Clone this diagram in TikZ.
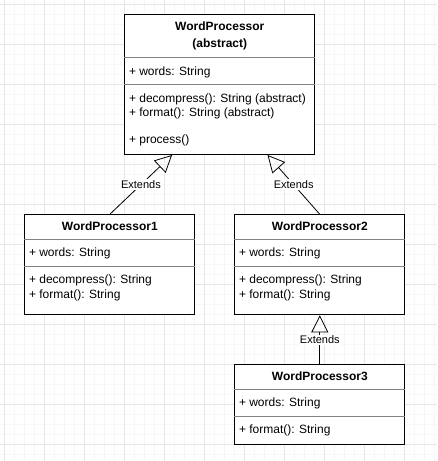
\documentclass[tikz,border=0pt]{standalone}
\usepackage{fontspec}
\setmainfont{Liberation Sans}
\usetikzlibrary{arrows.meta,calc}

\definecolor{gridmajor}{RGB}{230,230,230}
\definecolor{gridminor}{RGB}{247,247,247}
\definecolor{sepgray}{RGB}{130,130,130}

\tikzset{
  classbox/.style={draw, line width=1pt, fill=white, inner sep=0pt, anchor=north west},
  classname/.style={anchor=base, inner sep=0pt, font=\fontsize{12}{14}\selectfont\bfseries},
  member/.style={anchor=base west, inner sep=0pt, font=\fontsize{12}{14}\selectfont},
  sepline/.style={draw=sepgray, line width=0.8pt},
  extends/.style={-{Triangle[open, length=17pt, width=17pt]}, line width=0.8pt},
  extlabel/.style={fill=white, inner sep=1.2pt, font=\fontsize{11}{13}\selectfont}
}

\begin{document}
\begin{tikzpicture}[x=1pt, y=-1pt]
				\useasboundingbox (0,0) rectangle (437,461);
				\fill[white] (0,0) rectangle (437,461);
				% background grid
				\foreach \gx in {4.3,14.3,...,434.3}
					\draw[gridminor, line width=0.6pt] (\gx,0) -- (\gx,461);
				\foreach \gy in {4.3,14.3,...,454.3}
					\draw[gridminor, line width=0.6pt] (0,\gy) -- (437,\gy);
				\foreach \gx in {4.3,44.3,...,404.3}
					\draw[gridmajor, line width=0.8pt] (\gx,0) -- (\gx,461);
				\foreach \gy in {4.3,44.3,...,444.3}
					\draw[gridmajor, line width=0.8pt] (0,\gy) -- (437,\gy);

				% abstract base class
				\node[classbox, minimum width=190pt, minimum height=140pt] (wp) at (124.3,14) {};
				\draw[sepline] ($(wp.north west)+(0,43.3)$) -- ($(wp.north east)+(0,43.3)$);
				\draw[sepline] ($(wp.north west)+(0,70)$) -- ($(wp.north east)+(0,70)$);
				\node[classname] (wpname) at ($(wp.north)+(0,16.5)$) {WordProcessor};
				\node[classname] (wpabs) at ($(wp.north)+(0,33.5)$) {(abstract)};
				\node[member] (wpwords) at ($(wp.north west)+(4.5,61.3)$) {+ words: String};
				\node[member] (wpdec) at ($(wp.north west)+(4.5,88.5)$) {+ decompress(): String (abstract)};
				\node[member] (wpfmt) at ($(wp.north west)+(4.5,102.2)$) {+ format(): String (abstract)};
				\node[member] (wpproc) at ($(wp.north west)+(4.5,129.5)$) {+ process()};

				% first subclass
				\node[classbox, minimum width=170pt, minimum height=100pt] (wp1) at (24.3,214.3) {};
				\draw[sepline] ($(wp1.north west)+(0,25)$) -- ($(wp1.north east)+(0,25)$);
				\draw[sepline] ($(wp1.north west)+(0,51.7)$) -- ($(wp1.north east)+(0,51.7)$);
				\node[classname] (wp1name) at ($(wp1.north)+(0,15.8)$) {WordProcessor1};
				\node[member] (wp1words) at ($(wp1.north west)+(4.5,42.4)$) {+ words: String};
				\node[member] (wp1dec) at ($(wp1.north west)+(4.5,69)$) {+ decompress(): String};
				\node[member] (wp1fmt) at ($(wp1.north west)+(4.5,83.7)$) {+ format(): String};

				% second subclass
				\node[classbox, minimum width=170pt, minimum height=100pt] (wp2) at (234.3,214.3) {};
				\draw[sepline] ($(wp2.north west)+(0,25)$) -- ($(wp2.north east)+(0,25)$);
				\draw[sepline] ($(wp2.north west)+(0,51.7)$) -- ($(wp2.north east)+(0,51.7)$);
				\node[classname] (wp2name) at ($(wp2.north)+(0,15.8)$) {WordProcessor2};
				\node[member] (wp2words) at ($(wp2.north west)+(4.5,42.4)$) {+ words: String};
				\node[member] (wp2dec) at ($(wp2.north west)+(4.5,69)$) {+ decompress(): String};
				\node[member] (wp2fmt) at ($(wp2.north west)+(4.5,83.7)$) {+ format(): String};

				% subclass of the second one
				\node[classbox, minimum width=170pt, minimum height=80pt] (wp3) at (234.3,364.3) {};
				\draw[sepline] ($(wp3.north west)+(0,25)$) -- ($(wp3.north east)+(0,25)$);
				\draw[sepline] ($(wp3.north west)+(0,51.7)$) -- ($(wp3.north east)+(0,51.7)$);
				\node[classname] (wp3name) at ($(wp3.north)+(0,15.8)$) {WordProcessor3};
				\node[member] (wp3words) at ($(wp3.north west)+(4.5,42.4)$) {+ words: String};
				\node[member] (wp3fmt) at ($(wp3.north west)+(4.5,69)$) {+ format(): String};

				% inheritance
				\coordinate (wpleft) at ($(wp.south west)!0.25!(wp.south east)$);
				\coordinate (wpright) at ($(wp.south west)!0.75!(wp.south east)$);
				\draw[extends] (wp1.north) -- node[extlabel] (ext1) {Extends} (wpleft);
				\draw[extends] (wp2.north) -- node[extlabel] (ext2) {Extends} (wpright);
				\draw[extends] (wp3.north) -- node[extlabel] (ext3) {Extends} (wp2.south);
\end{tikzpicture}
\end{document}
